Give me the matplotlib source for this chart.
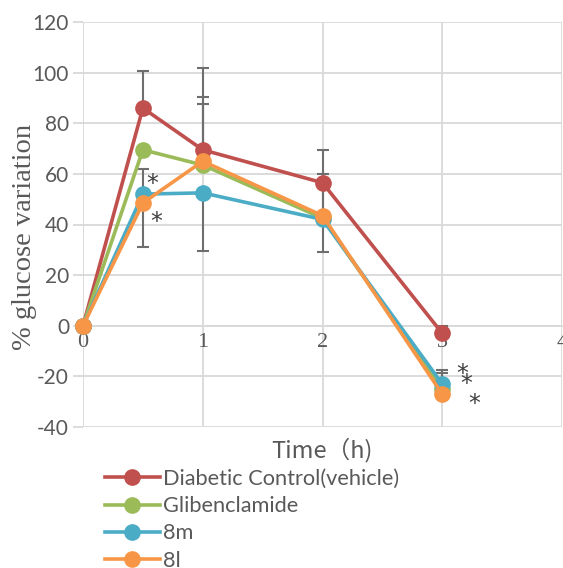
import matplotlib
matplotlib.use("Agg")
import matplotlib.pyplot as plt
import numpy as np

plt.rcParams["axes.unicode_minus"] = False

# time points (h)
time_h = [0, 0.5, 1, 2, 3]

series_names = ["Diabetic Control(vehicle)", "Glibenclamide", "8m", "8l"]
control = [0, 86, 69.5, 56.5, -3]
gliben = [0, 69.5, 63.5, 42.5, -25]
comp_8m = [0, 52, 52.5, 42, -23]
comp_8l = [0, 48.5, 65, 43.5, -27]

# error bars (lower, upper)
control_err = [[0, 0, 0, 13, 0], [0, 14.5, 32.5, 13, 3]]
gliben_err = [[0, 0, 0, 0, 0], [0, 0, 27, 0, 0]]
comp_8m_err = [[0, 0, 23, 13, 0], [0, 10, 0, 0, 5.5]]
comp_8l_err = [[0, 17.5, 0, 0, 0], [0, 0, 22.5, 16.5, 8.5]]

# significance marks (x, y)
star_x = [0.58, 0.61, 3.17, 3.2, 3.27]
star_y = [56, 41, -19, -23, -31]

colors = ["#C0504D", "#9BBB59", "#4BACC6", "#F79646"]
grid_c = "#D9D9D9"
text_c = "#595959"

fig = plt.figure(figsize=(5.63, 5.68), dpi=100)
ax = fig.add_axes([83 / 563, 1 - 427 / 568, 479 / 563, 405 / 568])

all_vals = [control, gliben, comp_8m, comp_8l]
all_errs = [control_err, gliben_err, comp_8m_err, comp_8l_err]

# error bars first (behind)
for vals, err in zip(all_vals, all_errs):
    ax.errorbar(time_h, vals, yerr=np.array(err), fmt="none", ecolor="#6E6E6E",
                elinewidth=1.5, capsize=4, capthick=1.5, zorder=3)

for vals, name, c in zip(all_vals, series_names, colors):
    ax.plot(time_h, vals, color=c, lw=2.6, marker="o", ms=11, label=name,
            zorder=4, clip_on=False)

for sx, sy in zip(star_x, star_y):
    ax.text(sx, sy, "*", fontsize=17, color="#404040", ha="center", va="center",
            family="DejaVu Sans", zorder=5)

ax.set_xlim(0, 4)
ax.set_ylim(-40, 120)
ax.set_yticks(np.arange(-40, 121, 20))
ax.set_xticks([0, 1, 2, 3, 4])
ax.grid(True, color=grid_c, lw=1.3, zorder=0)
ax.set_axisbelow(True)

for s in ["top", "right", "left"]:
    ax.spines[s].set_visible(False)
ax.spines["bottom"].set_position(("data", 0))
ax.spines["bottom"].set_color(grid_c)
ax.spines["bottom"].set_linewidth(1.3)
ax.tick_params(axis="y", length=7, color=grid_c, width=1.3, labelsize=15,
               labelcolor=text_c, pad=3)
ax.tick_params(axis="x", length=0, pad=5, labelsize=16, labelcolor=text_c)
for lab in ax.get_yticklabels():
    lab.set_family("Lato")
for lab in ax.get_xticklabels():
    lab.set_family("Liberation Serif")

ax.set_ylabel("% glucose variation", family="Liberation Serif", fontsize=20.5,
              color=text_c)
ax.yaxis.set_label_coords(-46 / 479, 0.47)

fig.text(322 / 563, 1 - 450 / 568, "Time（h)", ha="center", va="center",
         fontsize=17, color=text_c, family=["Noto Sans CJK SC", "DejaVu Sans"])

leg = fig.legend(loc="upper left", bbox_to_anchor=(105 / 563, 1 - 469 / 568),
                 frameon=False, borderpad=0, borderaxespad=0, handlelength=2.5,
                 handletextpad=0.14, labelspacing=0.33,
                 prop={"family": "Lato", "size": 15.7})
for t in leg.get_texts():
    t.set_color(text_c)

fig.savefig("out.png", dpi=100)
